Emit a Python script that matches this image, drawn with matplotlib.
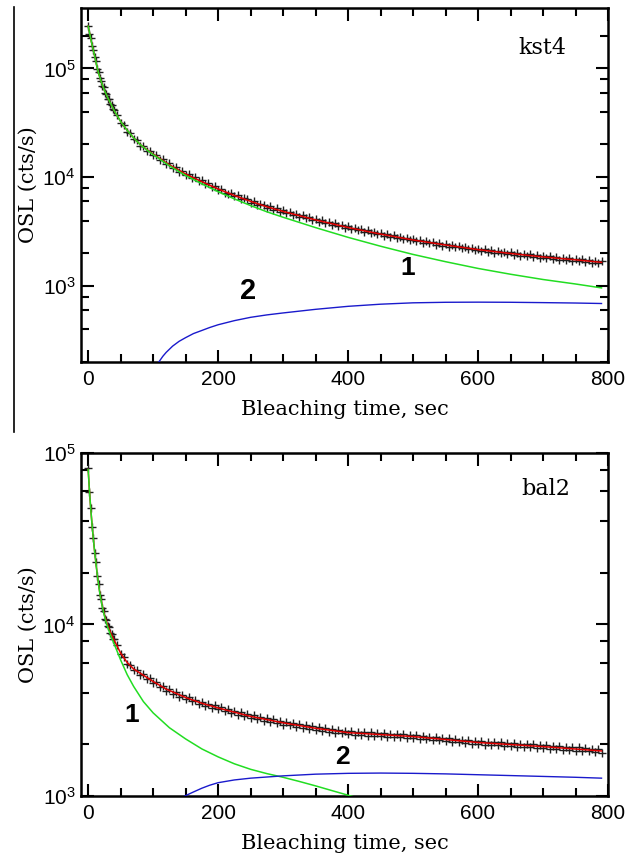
import matplotlib
matplotlib.use('Agg')
import matplotlib.pyplot as plt
import matplotlib.ticker as ticker
from matplotlib.lines import Line2D

# ---- kst4 (top panel) ----
t_data_top = list(range(0, 41, 2)) + list(range(45, 791, 5))
osl_data_top = [248000, 209000, 192000, 161000, 149000, 127000, 118000, 99500, 93000, 81000,
                77500, 69500, 67500, 60000, 58800, 52800, 52000, 47000, 46600, 42100, 41900,
                37400, 31800, 30300, 26300, 25700, 22400, 22000, 19500, 19400, 17500, 17600, 15900,
                16000, 14500, 14600, 13200, 13400, 12100, 12350, 11200, 11450, 10400,
                10650, 9750, 9980, 9150, 9380, 8600, 8800, 8080, 8280, 7600,
                7750, 7200, 7050, 7180, 6650, 6820, 6350, 6480, 6300, 5850,
                6020, 5600, 5720, 5580, 5230, 5390, 5020, 5160, 4830, 4980,
                4650, 4800, 4520, 4630, 4340, 4460, 4190, 4300, 4040, 4150,
                3900, 4020, 3770, 3900, 3660, 3770, 3550, 3650, 3430, 3540,
                3330, 3430, 3240, 3340, 3150, 3250, 3060, 3160, 2980, 3080,
                2900, 2990, 2830, 2920, 2760, 2850, 2690, 2780, 2630, 2710,
                2570, 2650, 2510, 2600, 2460, 2540, 2400, 2490, 2350, 2430,
                2300, 2390, 2260, 2340, 2220, 2300, 2170, 2250, 2130, 2210,
                2100, 2170, 2060, 2140, 2030, 2100, 1990, 2070, 1960, 2040,
                1930, 2010, 1900, 1980, 1880, 1950, 1850, 1920, 1820, 1890,
                1800, 1870, 1780, 1850, 1750, 1820, 1730, 1800, 1710,
                1780, 1690, 1760, 1670, 1730, 1640, 1710, 1620, 1690]

t_fit_top = [0, 3, 6, 10, 15, 20, 25, 30, 40, 50, 60, 70, 80, 90, 100, 125, 150, 175, 200, 225,
             250, 275, 300, 350, 400, 450, 500, 550, 600, 650, 700, 750, 790]
fit_sum_top = [245000, 200000, 165000, 130000, 95000, 76000, 63000, 54000, 41000, 32500,
               27000, 23000, 20000, 18000, 16300, 13000, 10700, 9100, 7800, 6800,
               6000, 5350, 4850, 4050, 3450, 3000, 2650, 2380, 2160, 1990, 1850, 1740, 1650]
comp1_top = [245000, 200000, 165000, 130000, 95000, 76000, 63000, 54000, 41000, 32500,
             27000, 23000, 20000, 17860, 16130, 12740, 10370, 8710, 7360, 6320,
             5485, 4810, 4285, 3440, 2800, 2320, 1950, 1672, 1450, 1282, 1147, 1043, 960]
t_comp2_top = [100, 105, 110, 115, 120, 130, 140, 150, 162, 175, 187, 200, 225, 250, 275, 300,
               350, 400, 450, 500, 550, 600, 650, 700, 750, 790]
comp2_top = [170, 188, 205, 226, 245, 280, 310, 335, 365, 390, 415, 440, 480, 515, 542, 565,
             610, 650, 680, 700, 708, 710, 708, 703, 697, 690]

# ---- bal2 (bottom panel) ----
t_data_bot = list(range(0, 41, 2)) + list(range(45, 791, 5))
osl_data_bot = [81500, 59000, 47800, 37200, 32000, 26000, 23000, 19200, 17300, 14900,
                14000, 12500, 12000, 10800, 10600, 9750, 9600, 8900, 8850, 8250, 8250,
                7550, 6700, 6450, 5880, 5800, 5400, 5450, 5100, 5150, 4800, 4880, 4560,
                4620, 4340, 4400, 4110, 4200, 3950, 4040, 3800, 3890, 3680,
                3770, 3560, 3650, 3450, 3550, 3350, 3450, 3270, 3370, 3200,
                3290, 3110, 3210, 3040, 3130, 2960, 3070, 2910, 3010, 2850,
                2950, 2800, 2890, 2750, 2850, 2700, 2800, 2660, 2750, 2610,
                2710, 2580, 2670, 2540, 2630, 2500, 2590, 2470, 2560, 2430,
                2520, 2400, 2490, 2370, 2460, 2340, 2430, 2320, 2400, 2290,
                2390, 2280, 2370, 2270, 2360, 2250, 2350, 2240, 2330, 2230,
                2320, 2220, 2310, 2210, 2300, 2200, 2290, 2180, 2270, 2170,
                2260, 2160, 2240, 2140, 2220, 2120, 2210, 2110, 2190, 2090,
                2170, 2070, 2150, 2060, 2130, 2040, 2120, 2020, 2100, 2010,
                2090, 1990, 2070, 1990, 2060, 1970, 2050, 1960, 2040, 1950,
                2030, 1940, 2020, 1930, 2010, 1920, 2000, 1910, 1990, 1900,
                1980, 1890, 1960, 1880, 1950, 1860, 1940, 1850, 1930,
                1840, 1920, 1830, 1910, 1820, 1890, 1800, 1880, 1790]

t_fit_bot = [0, 2, 4, 6, 8, 10, 14, 18, 22, 26, 30, 35, 40, 50, 60, 70, 80, 100, 120, 150,
             175, 200, 250, 300, 350, 400, 500, 600, 700, 790]
fit_sum_bot = [80000, 60000, 47000, 38000, 31500, 26500, 19500, 15200, 12700, 11000,
               9900, 8880, 8100, 6800, 6000, 5500, 5200, 4650, 4200, 3750,
               3470, 3260, 2910, 2670, 2480, 2340, 2220, 2050, 1940, 1830]
t_comp1_bot = [0, 2, 4, 6, 8, 10, 14, 18, 22, 26, 30, 35, 40, 50, 60, 70, 85, 100, 125, 150,
               175, 200, 225, 250, 275, 300, 325, 350, 375, 400, 425]
comp1_bot = [80000, 60000, 47000, 38000, 31500, 26500, 19500, 15100, 12550, 10800,
             9650, 8550, 7700, 6200, 5100, 4350, 3550, 3050, 2500, 2150,
             1880, 1690, 1540, 1430, 1350, 1285, 1215, 1145, 1075, 1010, 950]
t_comp2_bot = [100, 125, 150, 162, 175, 187, 200, 225, 250, 300, 350, 400, 450, 500, 550, 600,
               650, 700, 750, 790]
comp2_bot = [780, 900, 1005, 1055, 1110, 1155, 1195, 1240, 1270, 1310, 1340, 1355, 1360, 1355,
             1345, 1330, 1315, 1300, 1285, 1270]

plt.rcParams['font.family'] = 'Liberation Sans'
plt.rcParams['mathtext.default'] = 'regular'

serif = 'DejaVu Serif'


def style_axis(ax, y_limits):
    ax.set_yscale('log')
    ax.set_xlim(-11, 800)
    ax.set_ylim(*y_limits)
    ax.xaxis.set_major_locator(ticker.MultipleLocator(200))
    ax.xaxis.set_minor_locator(ticker.MultipleLocator(50))
    ax.yaxis.set_major_locator(ticker.LogLocator(base=10))
    ax.yaxis.set_minor_locator(ticker.LogLocator(base=10, subs=(2, 4, 6, 8)))
    ax.yaxis.set_minor_formatter(ticker.NullFormatter())
    ax.tick_params(which='both', direction='in', top=True, right=True, width=1.5,
                   labelsize=15)
    ax.tick_params(axis='x', pad=6)
    ax.tick_params(axis='y', pad=4)
    ax.tick_params(which='major', length=9)
    ax.tick_params(which='minor', length=6)
    for spine in ax.spines.values():
        spine.set_linewidth(1.8)
    ax.set_xlabel('Bleaching time, sec', family=serif, fontsize=15, labelpad=8)
    ax.set_ylabel('OSL (cts/s)', family=serif, fontsize=15, labelpad=3)


def draw_panel(ax, t_data, osl_data, t_sum, fit_sum, t_c1, comp1, t_c2, comp2):
    ax.plot(t_data, osl_data, '+', ms=6, mew=1.0, color='#1f1f1f', zorder=2)
    ax.plot(t_sum, fit_sum, color='#e00000', lw=1.1, zorder=3)
    ax.plot(t_c1, comp1, color='#22dd22', lw=1.1, zorder=4)
    ax.plot(t_c2, comp2, color='#1a1acc', lw=1.0, zorder=4)


fig = plt.figure(figsize=(6.38, 8.58), dpi=100)
ax_top = fig.add_axes([0.127, 0.5781, 0.826, 0.4126])
ax_bot = fig.add_axes([0.127, 0.0723, 0.826, 0.3998])

draw_panel(ax_top, t_data_top, osl_data_top, t_fit_top, fit_sum_top,
           t_fit_top, comp1_top, t_comp2_top, comp2_top)
style_axis(ax_top, (200, 3.6e5))
ax_top.text(0.875, 0.887, 'kst4', transform=ax_top.transAxes, family=serif,
            fontsize=16, ha='center', va='center')
ax_top.text(492, 1466, '1', fontsize=19, fontweight='bold', ha='center', va='center')
ax_top.text(246, 899, '2', fontsize=21, fontweight='bold', ha='center', va='center')

draw_panel(ax_bot, t_data_bot, osl_data_bot, t_fit_bot, fit_sum_bot,
           t_comp1_bot, comp1_bot, t_comp2_bot, comp2_bot)
style_axis(ax_bot, (1000, 1e5))
ax_bot.text(0.882, 0.895, 'bal2', transform=ax_bot.transAxes, family=serif,
            fontsize=16, ha='center', va='center')
ax_bot.text(67, 2980, '1', fontsize=19, fontweight='bold', ha='center', va='center')
ax_bot.text(392, 1680, '2', fontsize=19, fontweight='bold', ha='center', va='center')

# thin vertical rule on the left edge of the upper panel
fig.add_artist(Line2D([14 / 638, 14 / 638], [1 - 7 / 858, 1 - 432 / 858],
                      color='black', lw=1.2))

fig.savefig('out.png', dpi=100)
